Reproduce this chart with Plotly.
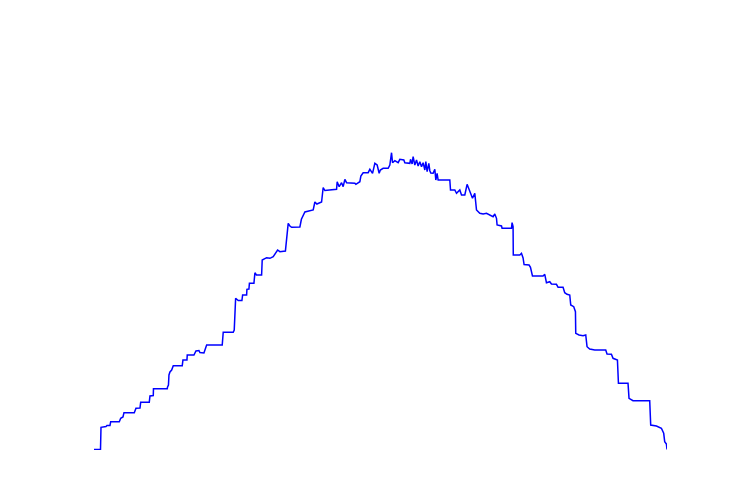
import plotly.graph_objects as go

# Punti della linea (x, altezza)
xx = [94, 100.5, 101, 106, 107, 110, 110.7, 119.3, 120.7, 123, 124, 134.3, 136, 140, 140.7,
      149.3, 150, 153.3, 153.5, 167.3, 167.5, 168.5, 169, 170, 171.7, 173.3, 182.3, 183, 187, 187.3,
      194, 196, 199, 200, 204, 206.7, 222.3, 223.3, 233.3, 234.3, 235.7, 238.3, 242, 242.7, 246.7,
      247, 249, 249.5, 254, 255, 256.5, 261.7, 262.3, 266.7, 270, 273.3, 277.7, 280, 285.5, 287,
      288.3, 290, 291.7, 300, 301.5, 305, 310, 313.3, 315, 317, 321.7, 323.3, 325, 336.7, 337.3,
      339.3, 341.7, 343.3, 345, 346.7, 355, 356, 360, 361, 363.3, 368.3, 370, 372.7, 375, 377.3,
      379.3, 380.5, 383.3, 388.3, 390, 391.7, 392.7, 395, 398.3, 400, 404, 405, 410, 410.7, 412.3,
      413.3, 415, 416.7, 418.3, 420, 421.7, 423.3, 425, 426, 427.3, 429, 430, 431, 433.3, 435,
      436, 437.3, 438.3, 450, 450.7, 455, 456.7, 460, 461.7, 465, 467.3, 469.3, 471, 472.7, 475,
      476.7, 480, 483.3, 486.7, 490, 493.3, 495, 496.7, 497.3, 501.7, 502.3, 511.7, 512.3, 513.3, 513.5,
      520, 521.7, 523.3, 524.3, 529.3, 530.7, 532.7, 543.3, 545, 546.7, 550, 551.7, 556.7, 558.3, 563.3,
      565, 567.3, 570, 571, 574, 575.7, 576, 579.3, 583.3, 586, 587.3, 590, 595, 606, 607.3,
      611.7, 613.3, 617.7, 618.7, 628.3, 629.3, 633.3, 650, 651, 656.7, 661.7, 664, 665, 666.7, 667.3]

yy = [0.5, 0.5, 22.7, 23.5, 24.5, 24.5, 28.3, 28.3, 31.7, 33, 37.3, 37.3, 41.7, 42, 47.7,
      47.7, 54, 54.5, 61.3, 61.3, 62.7, 65, 75, 78, 80, 84.3, 84.3, 90, 90, 95,
      95, 99, 99.5, 97.5, 97, 105, 105, 117.7, 117.7, 120, 151.7, 149.5, 149.5, 155, 155,
      160.7, 161, 166.7, 166.7, 177.3, 175, 175, 190, 192.3, 191.7, 193.3, 200, 198.3, 199, 213,
      226.7, 224, 222.7, 223, 230.7, 238, 239, 240, 248, 246, 248, 262.5, 259.5, 260.7, 268.3,
      263.3, 267.3, 263.3, 270.7, 267.3, 266.7, 265.7, 268.3, 274, 277.3, 277.3, 280.7, 276.7, 286.7, 285,
      276.7, 280, 281.7, 281.7, 285, 297.3, 287.3, 289.3, 287.3, 290.7, 290, 287.3, 286.7, 290.7, 286,
      293.3, 285, 290, 284, 288.3, 283.3, 287.3, 280, 288.3, 278.3, 286.7, 279.3, 277, 276.7, 280.7,
      270, 276.7, 270, 270, 260, 260, 256.7, 260, 255, 255, 265.7, 260, 256.7, 251.7, 256.7,
      240, 236.7, 236, 236.7, 235, 233.3, 236, 231.7, 225, 224, 221.7, 221.7, 227.3, 223.3, 195,
      195, 196.7, 192, 185.5, 185, 182.7, 174, 174, 175.7, 167.3, 168.3, 166, 165.7, 162.7, 162.7,
      157.3, 155.7, 155, 145, 143.3, 138.3, 116.7, 115, 114.3, 115, 103.3, 101, 100, 100, 96,
      95.7, 91.7, 90, 66.7, 66.7, 51.7, 49.3, 49.3, 25, 24, 21.7, 16.7, 8.3, 6, 0.5]

fig = go.Figure()

fig.add_trace(go.Scatter(
    x=xx,
    y=yy,
    mode="lines",
    showlegend=False,
    line=dict(
        color="blue",
        width=1.5,
    )
))

# la pagina ha 8px di margine, quindi si compensa qui
fig.update_layout(
    width=750,
    height=500,
    margin=dict(l=86, r=91, t=142, b=58),
    xaxis=dict(visible=False, range=[94, 667.3]),
    yaxis=dict(visible=False, range=[0, 300]),
    plot_bgcolor="white",
    paper_bgcolor="white",
)

fig.write_html("out.html")
